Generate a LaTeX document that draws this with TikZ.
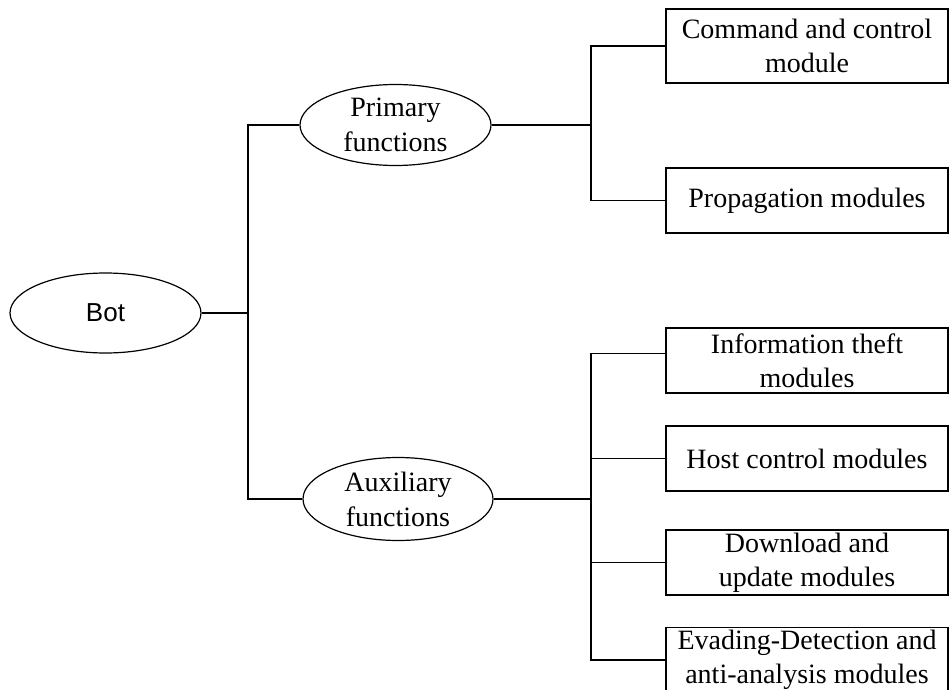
\documentclass[tikz,border=0pt]{standalone}
\usepackage{fontspec}
\setmainfont{Liberation Serif}
\newfontfamily\botfont{Liberation Sans}
\usepackage{tikz}
\usetikzlibrary{shapes.geometric, calc}

\begin{document}
\begin{tikzpicture}[x=1pt, y=-1pt, line width=1.2pt,
  func/.style={ellipse, draw, minimum width=191pt, minimum height=81pt, inner sep=0pt, align=center, font=\fontsize{28}{35}\selectfont},
  modbox/.style={rectangle, draw, minimum width=282pt, minimum height=65pt, inner sep=0pt, align=center, font=\fontsize{28}{34}\selectfont}]
\clip (0,0) rectangle (950,690);
\node[func, minimum height=80pt, font=\botfont\fontsize{26}{30}\selectfont] (bot) at (105.5,313) {Bot};
\node[func] (prim) at (395.5,125) {Primary\\functions};
\node[func, minimum width=190pt, minimum height=83pt] (aux) at (398,499) {Auxiliary\\functions};
% modules
\node[modbox, minimum height=74pt] (cmd) at (807,46) {Command and control\\module};
\node[modbox] (prop) at (807,200.5) {Propagation modules};
\node[modbox] (info) at (807,360.5) {Information theft\\modules};
\node[modbox] (host) at (807,458.5) {Host control modules};
\node[modbox] (dl) at (807,562.5) {Download and\\update modules};
\node[modbox] (evade) at (807,660) {Evading-Detection and\\anti-analysis modules};
% connectors
\coordinate (jb) at (248,313);
\coordinate (jp) at (591,125);
\coordinate (ja) at (591,499);
\draw (bot) -- (jb);
\draw (prim.west) -| (jb) |- (aux.west);
\draw (prim) -- (jp);
\draw (cmd.west) -| (jp) |- (prop.west);
\draw (aux) -- (ja);
\draw ([yshift=7pt]info.west) -| (ja) |- (evade.west);
\draw (host.west) -- (host.west -| ja);
\draw (dl.west) -- (dl.west -| ja);
\end{tikzpicture}
\end{document}
